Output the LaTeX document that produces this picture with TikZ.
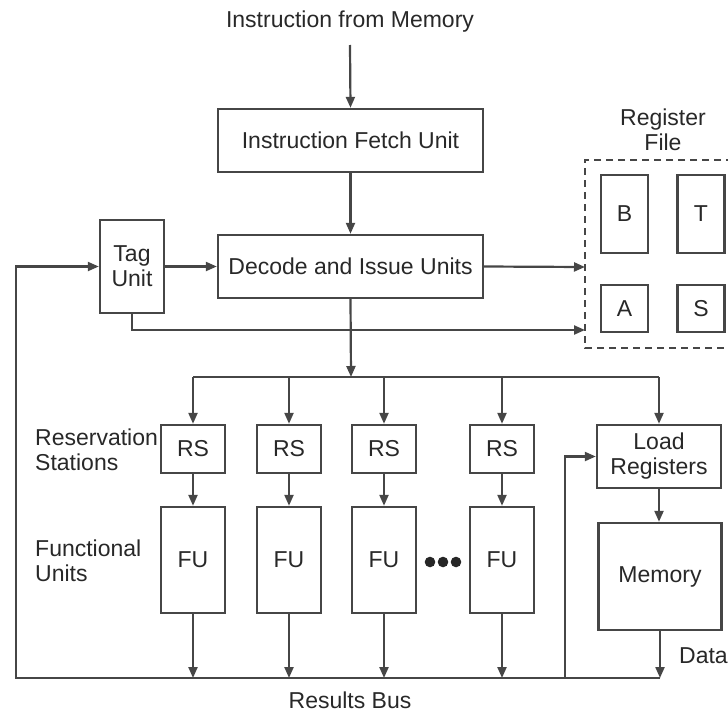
\documentclass[tikz,border=0pt]{standalone}
\usepackage{fontspec}
\setmainfont{Liberation Sans}
\usetikzlibrary{arrows.meta}
\definecolor{linecol}{RGB}{70,70,70}
\definecolor{textcol}{RGB}{40,40,40}
\tikzset{
  unit/.style={draw=linecol, line width=2.4pt, fill=white, inner sep=0pt,
    text=textcol, font=\fontsize{23}{25}\selectfont, align=center},
  lbl/.style={text=textcol, font=\fontsize{23}{25}\selectfont, inner sep=0pt},
  wire/.style={draw=linecol, line width=2.2pt},
  arr/.style={wire, -{Triangle[length=11pt,width=9pt]}},
}
\begin{document}
\begin{tikzpicture}[x=1pt,y=-1pt]
\useasboundingbox (0,0) rectangle (728,715);
\clip (0,0) rectangle (728,715);

% main pipeline
\node[lbl] (src) at (350,22) {Instruction from Memory};
\coordinate (srcend) at (350,45);
\node[unit, minimum width=265pt, minimum height=63pt] (ifu) at (350.5,140.5) {Instruction Fetch Unit};
\node[unit, minimum width=265pt, minimum height=63pt] (dec) at (350.5,266.5) {Decode and Issue Units};
\node[unit, minimum width=64pt, minimum height=93pt] (tag) at (132,266.5) {Tag\\Unit};

% register file
\node[lbl, align=center] (rftitle) at (663,130) {Register\\File};
\draw[draw=linecol, line width=2pt, dash pattern=on 7pt off 5pt]
  (745,160) -- (585,160) -- (585,348) -- (745,348);
\coordinate (rfin1) at (585,267);
\coordinate (rfin2) at (585,330);
\node[unit, minimum width=47pt, minimum height=78pt] (rb) at (624.5,214) {B};
\node[unit, minimum width=47pt, minimum height=78pt] (rt) at (701,214) {T};
\node[unit, minimum width=47pt, minimum height=47pt] (ra) at (624.5,308.5) {A};
\node[unit, minimum width=47pt, minimum height=47pt] (rs) at (701,308.5) {S};

% reservation stations and functional units
\foreach \i/\x in {1/193,2/289,3/384,4/502} {
  \node[unit, minimum width=64pt, minimum height=48pt] (rs\i) at (\x,449) {RS};
  \node[unit, minimum width=64pt, minimum height=106pt] (fu\i) at (\x,560) {FU};
}
\node[lbl, align=left, anchor=west] (rslbl) at (35,449.5) {Reservation\\Stations};
\node[lbl, align=left, anchor=west] (fulbl) at (35,561) {Functional\\Units};
\foreach \x in {430,443,456} \fill[black!85] (\x,562) circle (5.3pt);

% load registers and memory
\node[unit, minimum width=124pt, minimum height=63pt] (ld) at (659,456.5) {Load\\Registers};
\node[unit, minimum width=123pt, minimum height=107pt] (mem) at (660,576.5) {Memory};
\node[lbl, anchor=west] (data) at (679,656) {Data};
\node[lbl] (bus) at (350,700) {Results Bus};

% bus coordinates
\coordinate (split) at (351,377);
\coordinate (busL) at (16,678);
\coordinate (busR) at (660,678);
\coordinate (tap) at (565,678);

% connectors
\draw[arr] (srcend) -- (ifu.north);
\draw[arr] (ifu.south) -- (dec.north);
\draw[arr] (tag.east |- dec.west) -- (dec.west);
\draw[arr] (dec.east) -- (rfin1);
\draw[arr] (tag.south) |- (rfin2);
\draw[arr] (dec.south) -- (split);
\draw[wire] (split -| rs1.north) -- (split -| ld.north);
\foreach \i in {1,2,3,4} {
  \draw[arr] (split -| rs\i.north) -- (rs\i.north);
  \draw[arr] (rs\i.south) -- (fu\i.north);
  \draw[arr] (fu\i.south) -- (fu\i.south |- busL);
}
\draw[arr] (split -| ld.north) -- (ld.north);
\draw[arr] (ld.south) -- (ld.south |- mem.north);
\draw[arr] (mem.south) -- (busR);
\draw[arr] (busR) -- (busL) |- (tag.west);
\draw[arr] (tap) |- (ld.west);
\end{tikzpicture}
\end{document}
